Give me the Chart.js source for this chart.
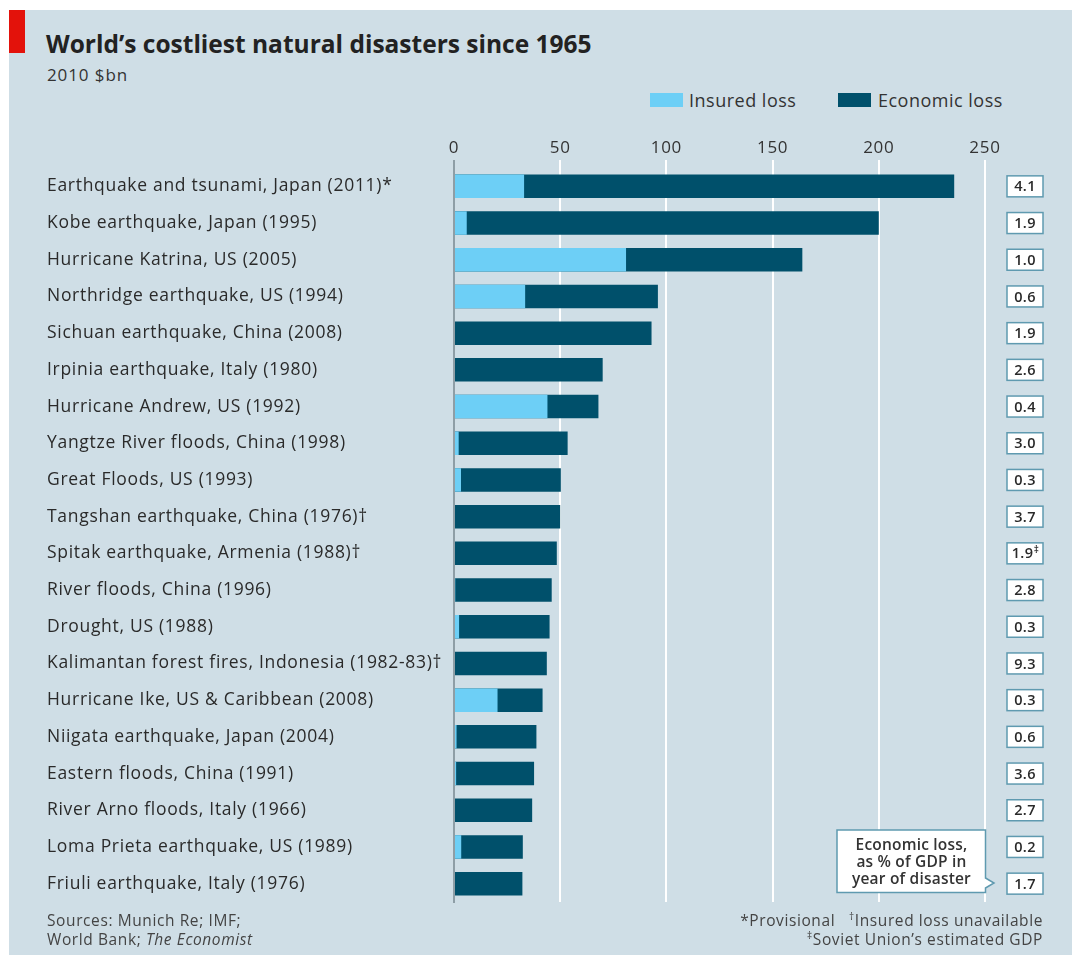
<!DOCTYPE html>
<html>
<head>
<meta charset="utf-8">
<script src="https://cdn.jsdelivr.net/npm/chart.js@4/dist/chart.umd.min.js"></script>
<style>
  html, body { margin: 0; padding: 0; background: #ffffff; }
  body { width: 1072px; height: 955px; position: relative; overflow: hidden; font-family: "Open Sans", Lato, sans-serif; color: #2a2a2a; }
  #panel { position: absolute; left: 9px; top: 10px; width: 1063px; height: 945px; background: #cfdee6; }
  #redbar { position: absolute; left: 9px; top: 10px; width: 16px; height: 43px; background: #e3120b; }
  #title { position: absolute; left: 46px; top: 28px; font-size: 24.5px; font-weight: bold; color: #222; white-space: nowrap; line-height: 32px; letter-spacing: 0px; }
  #subtitle { position: absolute; left: 47px; top: 64px; font-size: 17px; color: #333; white-space: nowrap; line-height: 22px; letter-spacing: 0.9px; }
  .sw { position: absolute; top: 93px; width: 33px; height: 14px; }
  .lg { position: absolute; top: 88px; font-size: 18px; color: #333; line-height: 24px; white-space: nowrap; letter-spacing: 0.5px; }
  #chart { position: absolute; left: 0; top: 0; }
  .foot { position: absolute; font-size: 15.5px; color: #444; line-height: 19px; white-space: nowrap; letter-spacing: 0.6px; }
  #callout { position: absolute; left: 836px; top: 829px; width: 160px; height: 65px; }
  #callout-text { position: absolute; left: 837px; top: 836px; width: 149px; text-align: center; font-size: 15.5px; font-weight: 600; color: #333; line-height: 17px; letter-spacing: 0.2px; }
  sup { font-size: 10px; line-height: 0; }
</style>
</head>
<body>
<div id="panel"></div>
<div id="redbar"></div>
<div id="title">World’s costliest natural disasters since 1965</div>
<div id="subtitle">2010 $bn</div>
<div class="sw" style="left:650px;background:#6dcff6"></div>
<div class="lg" style="left:689px">Insured loss</div>
<div class="sw" style="left:838px;background:#00506b"></div>
<div class="lg" style="left:878px">Economic loss</div>
<canvas id="chart" width="1072" height="955"></canvas>
<svg id="callout" width="160" height="65" viewBox="0 0 160 65">
  <path d="M1 1 H149.5 V49 L158 54 L149.5 59 V63.5 H1 Z" fill="#ffffff" stroke="#5f9ab0" stroke-width="1.5"/>
</svg>
<div id="callout-text">Economic loss,<br>as % of GDP in<br>year of disaster</div>
<div class="foot" style="left:47px;top:911px">Sources: Munich Re; IMF;<br>World Bank; <i>The Economist</i></div>
<div class="foot" style="right:29px;top:911px;text-align:right">*Provisional &nbsp;&nbsp;<sup>†</sup>Insured loss unavailable<br><sup>‡</sup>Soviet Union’s estimated GDP</div>

<script>
const categories = [
  "Earthquake and tsunami, Japan (2011)*",
  "Kobe earthquake, Japan (1995)",
  "Hurricane Katrina, US (2005)",
  "Northridge earthquake, US (1994)",
  "Sichuan earthquake, China (2008)",
  "Irpinia earthquake, Italy (1980)",
  "Hurricane Andrew, US (1992)",
  "Yangtze River floods, China (1998)",
  "Great Floods, US (1993)",
  "Tangshan earthquake, China (1976)†",
  "Spitak earthquake, Armenia (1988)†",
  "River floods, China (1996)",
  "Drought, US (1988)",
  "Kalimantan forest fires, Indonesia (1982-83)†",
  "Hurricane Ike, US & Caribbean (2008)",
  "Niigata earthquake, Japan (2004)",
  "Eastern floods, China (1991)",
  "River Arno floods, Italy (1966)",
  "Loma Prieta earthquake, US (1989)",
  "Friuli earthquake, Italy (1976)"
];
const insuredLoss = [33, 6, 81, 33.5, 0, 0, 44, 2.2, 3.3, null, null, 0.6, 2.4, null, 20.5, 1.2, 1.0, 0, 3.4, 0];
const economicLoss = [235.5, 200, 164, 96, 93, 70, 68, 53.5, 50.3, 50, 48.4, 46, 45, 43.7, 41.7, 38.8, 37.7, 36.8, 32.4, 32.2];
const gdpShare = ["4.1", "1.9", "1.0", "0.6", "1.9", "2.6", "0.4", "3.0", "0.3", "3.7", "1.9‡", "2.8", "0.3", "9.3", "0.3", "0.6", "3.6", "2.7", "0.2", "1.7"];
const xTicks = [0, 50, 100, 150, 200, 250];

const FONT = "'Open Sans', Lato, sans-serif";

const spacing = {
  id: 'spacing',
  beforeDraw(chart) { chart.ctx.letterSpacing = '0.7px'; },
  afterDraw(chart) { chart.ctx.letterSpacing = '0px'; }
};

const gdpBoxes = {
  id: 'gdpBoxes',
  afterDatasetsDraw(chart) {
    const ctx = chart.ctx;
    const y = chart.scales.y;
    ctx.save();
    ctx.letterSpacing = '0.3px';
    gdpShare.forEach((txt, i) => {
      const cy = y.getPixelForValue(i);
      const bx = 1007, bw = 36, bh = 21;
      ctx.fillStyle = '#ffffff';
      ctx.fillRect(bx, cy - bh / 2, bw, bh);
      ctx.strokeStyle = '#5f9ab0';
      ctx.lineWidth = 1.5;
      ctx.strokeRect(bx, cy - bh / 2, bw, bh);
      ctx.fillStyle = '#2a2a2a';
      ctx.font = '600 14.5px ' + FONT;
      ctx.textBaseline = 'middle';
      if (txt.endsWith('‡')) {
        const main = txt.slice(0, -1);
        ctx.textAlign = 'left';
        const w = ctx.measureText(main).width;
        const sx = bx + bw / 2 - (w + 5) / 2;
        ctx.fillText(main, sx, cy + 1);
        ctx.font = '600 10px ' + FONT;
        ctx.fillText('‡', sx + w + 0.5, cy - 3);
      } else {
        ctx.textAlign = 'center';
        ctx.fillText(txt, bx + bw / 2, cy + 1);
      }
    });
    ctx.restore();
  }
};

new Chart(document.getElementById('chart'), {
  type: 'bar',
  data: {
    labels: categories,
    datasets: [
      {
        label: 'Insured loss',
        data: insuredLoss,
        backgroundColor: '#6dcff6',
        grouped: false,
        categoryPercentage: 1,
        barPercentage: 0.64
      },
      {
        label: 'Economic loss',
        data: economicLoss,
        backgroundColor: '#00506b',
        grouped: false,
        categoryPercentage: 1,
        barPercentage: 0.64
      }
    ]
  },
  options: {
    indexAxis: 'y',
    responsive: false,
    animation: false,
    layout: { padding: { left: 47, right: 87, top: 138, bottom: 53 } },
    plugins: {
      legend: { display: false },
      tooltip: { enabled: false },
      title: { display: false }
    },
    scales: {
      x: {
        position: 'top',
        min: 0,
        max: 250,
        afterBuildTicks(scale) { scale.ticks = xTicks.map(v => ({ value: v })); },
        afterFit(scale) { scale.height = 30; },
        ticks: {
          font: { family: FONT, size: 17 },
          color: '#333',
          padding: 2,
          maxRotation: 0
        },
        grid: {
          color: (c) => c.tick && c.tick.value === 0 ? '#8e9ea6' : '#ffffff',
          lineWidth: 2,
          tickLength: 8,
          drawTicks: true
        },
        border: { display: false }
      },
      y: {
        afterFit(scale) { scale.width = 407; },
        ticks: {
          font: { family: FONT, size: 17.5 },
          color: '#2a2a2a',
          crossAlign: 'far',
          padding: 0
        },
        grid: { display: false },
        border: { display: true, color: '#8e9ea6', width: 2 }
      }
    }
  },
  plugins: [spacing, gdpBoxes]
});
</script>
</body>
</html>
